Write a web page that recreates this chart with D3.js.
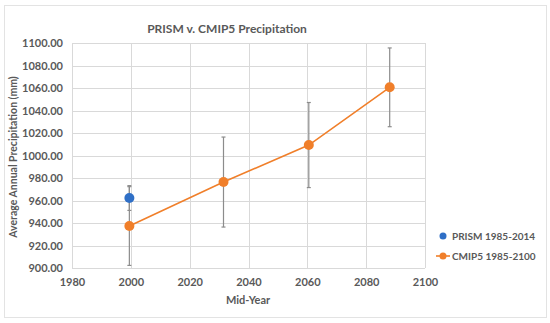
<!DOCTYPE html>
<html>
<head>
<meta charset="utf-8">
<script src="https://cdn.jsdelivr.net/npm/d3@7"></script>
<style>
  body { margin: 0; background: #fff; }
  svg { font-family: Lato, "Open Sans", sans-serif; }
</style>
</head>
<body>
<svg id="chart" width="550" height="323"></svg>
<script>
// data
const prismYears = [1999.5];
const prismValues = [962.2];
const prismErr = [11];

const cmipYears = [1999.5, 2031.5, 2060.5, 2088];
const cmipValues = [937.3, 976.4, 1009.3, 1060.6];
const cmipErr = [35, 40, 37.8, 35];

const xTicks = [1980, 2000, 2020, 2040, 2060, 2080, 2100];
const yTicks = [900, 920, 940, 960, 980, 1000, 1020, 1040, 1060, 1080, 1100];

const seriesNames = ['PRISM 1985-2014', 'CMIP5 1985-2100'];
const blue = '#2f6fc6';
const orange = '#f07f2a';
const textCol = '#595959';
const gridCol = '#d9d9d9';
const labelFont = 'Lato, "Open Sans", sans-serif';

const svg = d3.select('#chart');

// outer chart border
svg.append('rect')
  .attr('x', 4.5).attr('y', 5.5)
  .attr('width', 542).attr('height', 312)
  .attr('fill', '#fff')
  .attr('stroke', '#e3e3e3');

const x = d3.scaleLinear().domain([1980, 2100]).range([72, 425]);
const y = d3.scaleLinear().domain([900, 1100]).range([268, 43]);

// gridlines
const grid = svg.append('g');
grid.selectAll('line.h')
  .data(yTicks)
  .join('line')
  .attr('class', 'h')
  .attr('x1', x(1980)).attr('x2', x(2100))
  .attr('y1', (d) => Math.round(y(d)) + 0.5)
  .attr('y2', (d) => Math.round(y(d)) + 0.5)
  .attr('stroke', gridCol);
grid.selectAll('line.v')
  .data(xTicks)
  .join('line')
  .attr('class', 'v')
  .attr('y1', y(900)).attr('y2', y(1100))
  .attr('x1', (d) => Math.round(x(d)) + 0.5)
  .attr('x2', (d) => Math.round(x(d)) + 0.5)
  .attr('stroke', gridCol);

// axes (labels only)
const yAxis = svg.append('g')
  .attr('transform', `translate(${x(1980)},0)`)
  .call(d3.axisLeft(y).tickValues(yTicks).tickSize(0).tickPadding(9).tickFormat(d3.format('.2f')));
const xAxis = svg.append('g')
  .attr('transform', `translate(0,${y(900)})`)
  .call(d3.axisBottom(x).tickValues(xTicks).tickSize(0).tickPadding(10).tickFormat(d3.format('d')));
[xAxis, yAxis].forEach((a) => {
  a.select('.domain').remove();
  a.selectAll('text')
    .attr('fill', textCol)
    .attr('font-size', 11)
    .attr('font-weight', 700)
    .attr('font-family', labelFont);
});

// error bars
function errorBars(years, values, errs) {
  const g = svg.append('g').attr('stroke', '#8c8c8c').attr('stroke-width', 1.2);
  const data = years.map((yr, i) => ({ yr, v: values[i], e: errs[i] }));
  g.selectAll('line.bar').data(data).join('line')
    .attr('x1', (d) => x(d.yr)).attr('x2', (d) => x(d.yr))
    .attr('y1', (d) => y(d.v + d.e)).attr('y2', (d) => y(d.v - d.e));
  g.selectAll('line.top').data(data).join('line')
    .attr('x1', (d) => x(d.yr) - 2).attr('x2', (d) => x(d.yr) + 2)
    .attr('y1', (d) => y(d.v + d.e)).attr('y2', (d) => y(d.v + d.e));
  g.selectAll('line.bot').data(data).join('line')
    .attr('x1', (d) => x(d.yr) - 2).attr('x2', (d) => x(d.yr) + 2)
    .attr('y1', (d) => y(d.v - d.e)).attr('y2', (d) => y(d.v - d.e));
}
errorBars(prismYears, prismValues, prismErr);
errorBars(cmipYears, cmipValues, cmipErr);

// CMIP5 line + markers
const cmip = cmipYears.map((yr, i) => [yr, cmipValues[i]]);
svg.append('path')
  .datum(cmip)
  .attr('fill', 'none')
  .attr('stroke', orange)
  .attr('stroke-width', 1.6)
  .attr('d', d3.line().x((d) => x(d[0])).y((d) => y(d[1])));
svg.append('g').selectAll('circle')
  .data(cmip)
  .join('circle')
  .attr('cx', (d) => x(d[0])).attr('cy', (d) => y(d[1]))
  .attr('r', 5).attr('fill', orange);

// PRISM markers
svg.append('g').selectAll('circle')
  .data(prismYears.map((yr, i) => [yr, prismValues[i]]))
  .join('circle')
  .attr('cx', (d) => x(d[0])).attr('cy', (d) => y(d[1]))
  .attr('r', 5).attr('fill', blue);

// title
svg.append('text')
  .attr('x', 227).attr('y', 33)
  .attr('text-anchor', 'middle')
  .attr('fill', textCol)
  .attr('font-size', 12)
  .attr('font-weight', 700)
  .text('PRISM v. CMIP5 Precipitation');

// axis titles
svg.append('text')
  .attr('x', 248).attr('y', 304)
  .attr('text-anchor', 'middle')
  .attr('fill', textCol)
  .attr('font-size', 11)
  .attr('font-weight', 700)
  .text('Mid-Year');
svg.append('text')
  .attr('transform', 'translate(17,157) rotate(-90)')
  .attr('text-anchor', 'middle')
  .attr('fill', textCol)
  .attr('font-size', 10.5)
  .attr('font-weight', 700)
  .text('Average Annual Precipitation (mm)');

// legend
const legend = svg.append('g').attr('transform', 'translate(443,0)');
const legY = [236, 256];
legend.append('line')
  .attr('x1', -7).attr('x2', 7)
  .attr('y1', legY[1]).attr('y2', legY[1])
  .attr('stroke', orange).attr('stroke-width', 1.6);
legend.selectAll('circle')
  .data([blue, orange])
  .join('circle')
  .attr('cx', 0).attr('cy', (d, i) => legY[i])
  .attr('r', 3.5).attr('fill', (d) => d);
legend.selectAll('text')
  .data(seriesNames)
  .join('text')
  .attr('x', 9).attr('y', (d, i) => legY[i])
  .attr('dy', '0.35em')
  .attr('fill', textCol)
  .attr('font-size', 10)
  .attr('font-weight', 700)
  .text((d) => d);
</script>
</body>
</html>
